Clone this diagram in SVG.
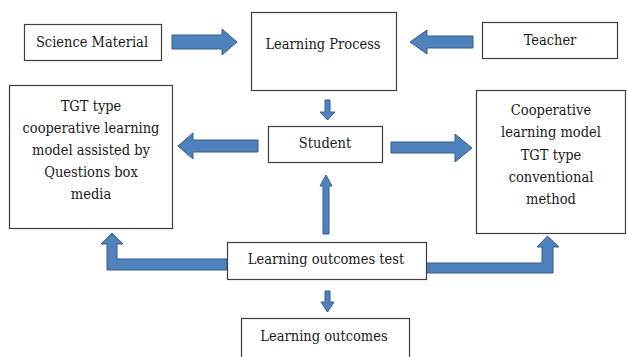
<svg xmlns="http://www.w3.org/2000/svg" width="627" height="357" viewBox="0 0 627 357">
  <style>
    .box { fill: #ffffff; stroke: #404040; stroke-width: 1.2; }
    .lbl { font-family: 'DejaVu Serif Condensed', 'DejaVu Serif', serif; font-size: 14.5px; fill: #1a1a1a; text-anchor: middle; }
    .arr { fill: #4F81BD; stroke: #385D8A; stroke-width: 1; stroke-linejoin: miter; }
  </style>
  <rect width="627" height="357" fill="#ffffff"/>

  <!-- connectors: block arrows -->
  <g id="connectors">
    <!-- Science Material -> Learning Process -->
    <polygon class="arr" points="172,35 222,35 222,29 237,42 222,55 222,49 172,49"/>
    <!-- Teacher -> Learning Process -->
    <polygon class="arr" points="473,36 427,36 427,30 410,42 427,54 427,48 473,48"/>
    <!-- Learning Process -> Student -->
    <polygon class="arr" points="325,100 330,100 330,112 335,112 327.5,120 320,112 325,112"/>
    <!-- Student -> TGT/Questions box model -->
    <polygon class="arr" points="258,140 193,140 193,133 178,146 193,159 193,152 258,152"/>
    <!-- Student -> conventional method -->
    <polygon class="arr" points="391,142 455,142 455,134 472,148 455,162 455,153 391,153"/>
    <!-- Learning outcomes test -> Student -->
    <polygon class="arr" points="323,234 323,186 320,186 326,175 332,186 329,186 329,234"/>
    <!-- Learning outcomes test -> left box (elbow) -->
    <polygon class="arr" points="227,259 117,259 117,244 123,244 112,233 101,244 107,244 107,270 227,270"/>
    <!-- Learning outcomes test -> right box (elbow) -->
    <polygon class="arr" points="426,263 542,263 542,247 537,247 547.5,236 559,247 553,247 553,273 426,273"/>
    <!-- Learning outcomes test -> Learning outcomes -->
    <polygon class="arr" points="325,291 330,291 330,302 334,302 327.5,312 321,302 325,302"/>
  </g>

  <g id="science-material">
    <rect class="box" x="24.5" y="24.5" width="137" height="36"/>
    <text class="lbl" x="92" y="47">Science Material</text>
  </g>

  <g id="learning-process">
    <rect class="box" x="251.5" y="12.5" width="145" height="78"/>
    <text class="lbl" x="323" y="49">Learning Process</text>
  </g>

  <g id="teacher">
    <rect class="box" x="482.5" y="22.5" width="135" height="36"/>
    <text class="lbl" x="550" y="45">Teacher</text>
  </g>

  <g id="tgt-questions-box">
    <rect class="box" x="9.5" y="85.5" width="163" height="143"/>
    <text class="lbl" x="91" y="111">TGT type</text>
    <text class="lbl" x="91" y="133">cooperative learning</text>
    <text class="lbl" x="91" y="155">model assisted by</text>
    <text class="lbl" x="91" y="177">Questions box</text>
    <text class="lbl" x="91" y="199">media</text>
  </g>

  <g id="student">
    <rect class="box" x="268.5" y="126.5" width="114" height="36"/>
    <text class="lbl" x="325" y="148">Student</text>
  </g>

  <g id="conventional-method">
    <rect class="box" x="476.5" y="90.5" width="149" height="143"/>
    <text class="lbl" x="551" y="115">Cooperative</text>
    <text class="lbl" x="551" y="137">learning model</text>
    <text class="lbl" x="551" y="160">TGT type</text>
    <text class="lbl" x="551" y="182">conventional</text>
    <text class="lbl" x="551" y="204">method</text>
  </g>

  <g id="learning-outcomes-test">
    <rect class="box" x="227.5" y="242.5" width="199" height="37"/>
    <text class="lbl" x="326" y="264">Learning outcomes test</text>
  </g>

  <g id="learning-outcomes">
    <rect class="box" x="241.5" y="318.5" width="168" height="42"/>
    <text class="lbl" x="324" y="341">Learning outcomes</text>
  </g>
</svg>
